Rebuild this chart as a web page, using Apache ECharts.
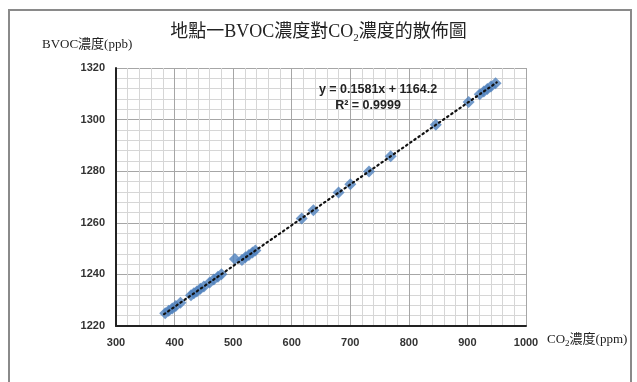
<!DOCTYPE html>
<html>
<head>
<meta charset="utf-8">
<script src="https://cdn.jsdelivr.net/npm/echarts@6/dist/echarts.min.js"></script>
<style>
html,body{margin:0;padding:0;background:#fff;}
#c{width:637px;height:382px;}
</style>
</head>
<body>
<div id="c"></div>
<script>
// Data
var co2 = [384, 390, 396, 402, 410, 428, 433, 438, 444, 450, 460, 467, 474, 480, 503, 515, 521, 527, 533, 538, 617, 637, 680, 700, 732, 769, 846, 902, 921, 928, 934, 940, 948];
var bvoc = [1224.9, 1225.9, 1226.8, 1227.8, 1229.0, 1231.9, 1232.7, 1233.4, 1234.4, 1235.3, 1236.9, 1238.0, 1239.1, 1240.1, 1246.0, 1245.6, 1246.6, 1247.5, 1248.5, 1249.3, 1261.7, 1264.9, 1271.7, 1274.9, 1279.9, 1285.8, 1298.0, 1306.8, 1309.8, 1310.9, 1311.9, 1312.8, 1314.1];
var trendSlope = 0.1581;
var trendIntercept = 1164.2;
var trendRange = [382, 950];
var xTicks = [300, 400, 500, 600, 700, 800, 900, 1000];
var yTicks = [1220, 1240, 1260, 1280, 1300, 1320];
var titleText = ['地點一BVOC濃度對CO', '2', '濃度的散佈圖'];
var yName = 'BVOC濃度(ppb)';
var xName = ['CO', '2', '濃度(ppm)'];
var eqText = 'y = 0.1581x + 1164.2';
var r2Text = 'R² = 0.9999';

var points = co2.map(function (x, i) { return [x, bvoc[i]]; });
var trend = trendRange.map(function (x) { return [x, trendSlope * x + trendIntercept]; });

var chart = echarts.init(document.getElementById('c'), null, {renderer: 'canvas'});
var serif = '"Liberation Serif", "Noto Sans CJK TC", serif';
var sans = '"Liberation Sans", Arial, sans-serif';
function plain(v) { return String(v); }
chart.setOption({
  animation: false,
  backgroundColor: '#fff',
  grid: {left: 116, right: 111, top: 68, bottom: 56},
  xAxis: {
    type: 'value', min: xTicks[0], max: xTicks[xTicks.length - 1], interval: 100,
    axisLine: {show: true, lineStyle: {color: '#222', width: 2}},
    axisTick: {show: false},
    axisLabel: {color: '#333', fontFamily: sans, fontWeight: 'bold', fontSize: 11, margin: 11, formatter: plain},
    splitLine: {show: true, lineStyle: {color: '#a6a6a6', width: 1}},
    minorTick: {show: false, splitNumber: 5},
    minorSplitLine: {show: true, lineStyle: {color: '#d6d6d6', width: 1}}
  },
  yAxis: {
    type: 'value', min: yTicks[0], max: yTicks[yTicks.length - 1], interval: 20,
    axisLine: {show: true, lineStyle: {color: '#222', width: 2}},
    axisTick: {show: false},
    axisLabel: {color: '#333', fontFamily: sans, fontWeight: 'bold', fontSize: 11, margin: 11, formatter: plain},
    splitLine: {show: true, lineStyle: {color: '#a6a6a6', width: 1}},
    minorTick: {show: false, splitNumber: 5},
    minorSplitLine: {show: true, lineStyle: {color: '#d6d6d6', width: 1}}
  },
  series: [
    {
      type: 'scatter', data: points, symbol: 'diamond', symbolSize: 12,
      itemStyle: {color: '#4f81bd'}, z: 3
    },
    {
      type: 'line', data: trend, showSymbol: false, symbol: 'none',
      lineStyle: {color: '#111', width: 2.2, type: [1.5, 3.5], cap: 'round'}, z: 4
    }
  ],
  graphic: [
    {type: 'rect', z: 100, shape: {x: 9, y: 10, width: 622, height: 380}, style: {fill: 'none', stroke: '#8a8a8a', lineWidth: 2}, silent: true},
    {type: 'text', z: 100, left: 'center', top: 23, style: {
      text: '{a|' + titleText[0] + '}{s|' + titleText[1] + '}{a|' + titleText[2] + '}',
      rich: {
        a: {fontFamily: serif, fontSize: 18, fill: '#222'},
        s: {fontFamily: serif, fontSize: 11, fill: '#222', verticalAlign: 'bottom', padding: [12, 0, 0, 0]}
      }
    }},
    {type: 'text', z: 100, x: 42, y: 38, style: {text: yName, font: '13px ' + serif, fill: '#222'}},
    {type: 'text', z: 100, x: 547, y: 331, style: {
      text: '{a|' + xName[0] + '}{s|' + xName[1] + '}{a|' + xName[2] + '}',
      rich: {
        a: {fontFamily: serif, fontSize: 13, fill: '#222'},
        s: {fontFamily: serif, fontSize: 9, fill: '#222', padding: [8, 0, 0, 0]}
      }
    }},
    {type: 'text', z: 100, x: 378, y: 90, style: {text: eqText, font: 'bold 12.5px ' + sans, fill: '#222', textAlign: 'center', textVerticalAlign: 'middle'}},
    {type: 'text', z: 100, x: 368, y: 106, style: {text: r2Text, font: 'bold 12.5px ' + sans, fill: '#222', textAlign: 'center', textVerticalAlign: 'middle'}}
  ]
});
</script>
</body>
</html>
